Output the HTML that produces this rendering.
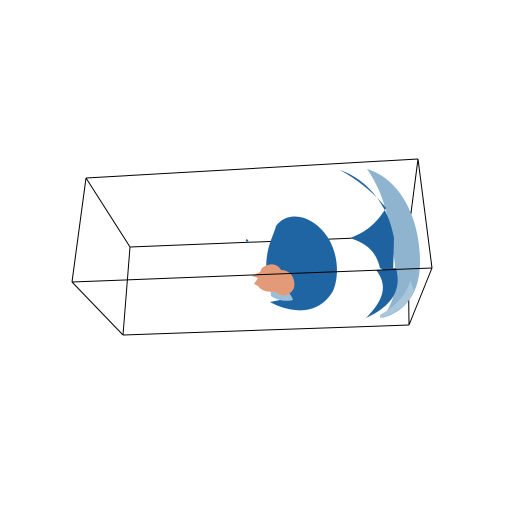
<!DOCTYPE html>
<html><head><meta charset="utf-8"><style>
html,body{margin:0;padding:0;background:#fff;width:512px;height:512px;overflow:hidden}
svg{display:block}
</style></head><body>
<svg width="512" height="512" viewBox="0 0 512 512">
<g stroke="#000" stroke-width="1" fill="none">
  <line x1="130" y1="247" x2="408" y2="236"/>
  <line x1="418" y1="159" x2="408" y2="236"/>
  <line x1="408" y1="236" x2="409" y2="325"/>
  <line x1="86" y1="178" x2="130" y2="247"/>
  <line x1="130" y1="247" x2="123" y2="335"/>
</g>
<g>
  <path d="M367,169 C398,178 420,215 420,262 C420,292 406,312 382,318 C396,300 398,282 394,258 C390,222 385,195 367,169 Z" fill="#8fb4cf"/>
  <path d="M380,315 C398,305 408,292 410,280 L414,290 C408,305 396,314 380,318 Z" fill="#a9c6db"/>
</g>
<g>
  <path d="M340,170 C368,180 388,205 394,238 L393,275 L380,268 C376,252 368,244 350,238 C366,232 376,224 386,208 C376,195 360,181 340,170 Z" fill="#1e62a0"/>
  <path d="M366,318 C384,300 388,285 376,270 L396,268 C402,290 392,306 366,318 Z" fill="#1e62a0"/>
</g>
<g>
  <path d="M276,226 C286,212 306,214 320,228 C337,244 341,272 333,291 C325,305 311,312 295,310 C285,309 275,305 270,302 L280,300 C270,290 264,275 267,256 C269,242 274,234 276,226 Z" fill="#1f64a3"/>
  <path d="M270,286 C278,284 290,290 293,300 C285,302 276,300 271,296 Z" fill="#9cbfd8"/>
</g>
<g fill="#e39a78">
  <path d="M262,268 C270,262 278,264 281,270 C290,270 296,278 294,288 C290,296 282,298 276,292 C270,292 262,292 258,286 L254,284 L258,278 L252,276 L260,272 Z"/>
</g>
<line x1="246" y1="240" x2="248" y2="241" stroke="#1f64a3" stroke-width="2"/>
<g stroke="#000" stroke-width="1" fill="none">
  <line x1="86" y1="178" x2="418" y2="159"/>
  <line x1="418" y1="159" x2="432" y2="268"/>
  <line x1="432" y1="268" x2="409" y2="325"/>
  <line x1="409" y1="325" x2="123" y2="335"/>
  <line x1="123" y1="335" x2="72" y2="282"/>
  <line x1="72" y1="282" x2="86" y2="178"/>
  <line x1="72" y1="282" x2="432" y2="268"/>
</g>
</svg>
</body></html>
